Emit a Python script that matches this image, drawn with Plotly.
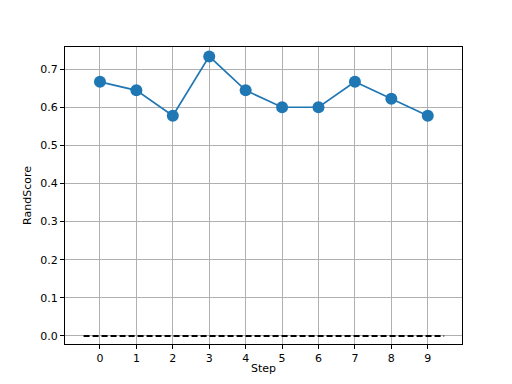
import plotly.graph_objects as go

steps = [0, 1, 2, 3, 4, 5, 6, 7, 8, 9]
rand_score = [0.6667, 0.6444, 0.5778, 0.7333, 0.6444, 0.6, 0.6, 0.6667, 0.6222, 0.5778]
baseline_x = [-0.45, 9.45]
baseline_y = [0.0, 0.0]
y_ticks = [0.0, 0.1, 0.2, 0.3, 0.4, 0.5, 0.6, 0.7]

fig = go.Figure()
fig.add_trace(go.Scatter(x=baseline_x, y=baseline_y, mode="lines",
                         line=dict(color="black", width=1.8, dash="6px,3px"),
                         showlegend=False, hoverinfo="skip"))
fig.add_trace(go.Scatter(x=steps, y=rand_score, mode="lines+markers",
                         line=dict(color="#1f77b4", width=1.7),
                         marker=dict(color="#1f77b4", size=12),
                         showlegend=False))

axis_common = dict(showline=True, linecolor="black", linewidth=1, mirror=True,
                   ticks="outside", ticklen=4, tickcolor="black",
                   showgrid=True, gridcolor="#b0b0b0", gridwidth=0.9,
                   zeroline=False, tickfont=dict(size=11, color="black"))

fig.update_xaxes(range=[-0.96, 9.94], tickvals=steps, ticktext=[str(s) for s in steps],
                 title=dict(text="Step", font=dict(size=11, color="black"), standoff=0),
                 **axis_common)
fig.update_yaxes(range=[-0.021, 0.758], tickvals=y_ticks,
                 ticktext=[f"{v:.1f}" for v in y_ticks],
                 title=dict(text="RandScore", font=dict(size=11, color="black"), standoff=6),
                 **axis_common)

fig.update_layout(width=512, height=384, margin=dict(l=57, r=58, t=39, b=48),
                  plot_bgcolor="white", paper_bgcolor="white",
                  font=dict(family="DejaVu Sans", size=11, color="black"))

fig.write_html("out.html")
